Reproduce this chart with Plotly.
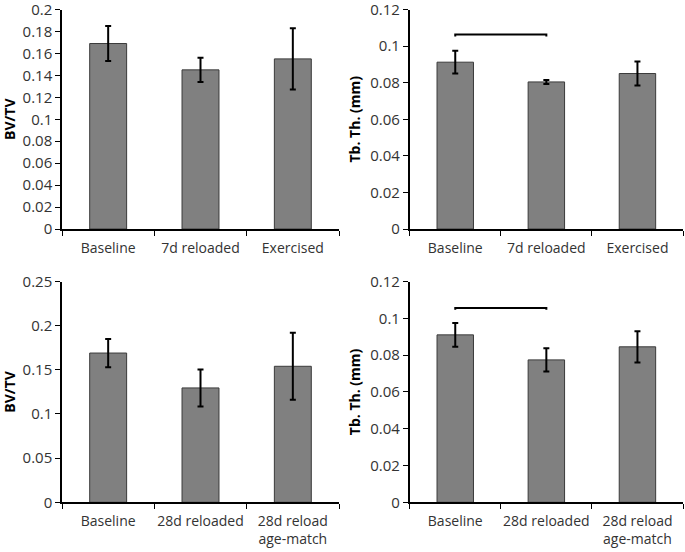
import plotly.graph_objects as go
from plotly.subplots import make_subplots

# data
cats_7d = ["Baseline", "7d reloaded", "Exercised"]
cats_28d = ["Baseline", "28d reloaded", "28d reload<br>age-match"]

bvtv_7d = [0.169, 0.145, 0.155]
bvtv_7d_err = [0.016, 0.011, 0.028]
tbth_7d = [0.0912, 0.0804, 0.0850]
tbth_7d_err = [0.0062, 0.0011, 0.0066]

bvtv_28d = [0.169, 0.1295, 0.154]
bvtv_28d_err = [0.016, 0.021, 0.038]
tbth_28d = [0.0910, 0.0774, 0.0845]
tbth_28d_err = [0.0065, 0.0063, 0.0085]

# significance brackets (Baseline vs reloaded)
bracket_7d = [0.1053, 0.1063]
bracket_28d = [0.1046, 0.1056]

BAR = "#808080"
FONT = "Open Sans"

fig = make_subplots(rows=2, cols=2)


def add_bars(cats, vals, errs, row, col):
    fig.add_trace(
        go.Bar(
            x=cats,
            y=vals,
            width=0.4,
            marker=dict(color=BAR, line=dict(color="#3a3a3a", width=1)),
            error_y=dict(type="data", array=errs, color="black",
                         thickness=2, width=3),
            showlegend=False,
        ), row=row, col=col)


def add_bracket(cats, levels, row, col):
    fig.add_trace(
        go.Scatter(
            x=[cats[0], cats[0], cats[1], cats[1]],
            y=[levels[0], levels[1], levels[1], levels[0]],
            mode="lines",
            line=dict(color="black", width=2),
            showlegend=False,
            hoverinfo="skip",
        ), row=row, col=col)


add_bars(cats_7d, bvtv_7d, bvtv_7d_err, 1, 1)
add_bars(cats_7d, tbth_7d, tbth_7d_err, 1, 2)
add_bracket(cats_7d, bracket_7d, 1, 2)
add_bars(cats_28d, bvtv_28d, bvtv_28d_err, 2, 1)
add_bars(cats_28d, tbth_28d, tbth_28d_err, 2, 2)
add_bracket(cats_28d, bracket_28d, 2, 2)

W, H = 685, 552
xdom_l = [62 / W, 339 / W]
xdom_r = [409.7 / W, 683 / W]
ydom_t = [1 - 229 / H, 1 - 9.5 / H]
ydom_b = [1 - 502.3 / H, 1 - 281.5 / H]

axis_common = dict(
    showgrid=False,
    zeroline=False,
    showline=True,
    linecolor="black",
    linewidth=1.5,
    ticks="outside",
    tickcolor="black",
    ticklen=5,
    automargin=False,
    ticklabeloverflow="allow",
)

fig.update_xaxes(**axis_common, tickson="boundaries", tickangle=0,
                 ticklabelstandoff=5,
                 tickfont=dict(family=FONT, size=14, color="#333"))
fig.update_yaxes(**axis_common,
                 tickfont=dict(family=FONT, size=15, color="#333"))

title_font = dict(family=FONT, size=14, color="black")

fig.update_layout(
    xaxis=dict(domain=xdom_l),
    xaxis2=dict(domain=xdom_r),
    xaxis3=dict(domain=xdom_l),
    xaxis4=dict(domain=xdom_r),
    yaxis=dict(domain=ydom_t, range=[0, 0.2], dtick=0.02,
               title=dict(text="<b>BV/TV</b>", standoff=4, font=title_font)),
    yaxis2=dict(domain=ydom_t, range=[0, 0.12], dtick=0.02,
                title=dict(text="<b>Tb. Th. (mm)</b>", standoff=6,
                           font=title_font)),
    yaxis3=dict(domain=ydom_b, range=[0, 0.25], dtick=0.05,
                title=dict(text="<b>BV/TV</b>", standoff=4, font=title_font)),
    yaxis4=dict(domain=ydom_b, range=[0, 0.12], dtick=0.02,
                title=dict(text="<b>Tb. Th. (mm)</b>", standoff=6,
                           font=title_font)),
    width=W,
    height=H,
    margin=dict(l=0, r=0, t=0, b=0),
    paper_bgcolor="white",
    plot_bgcolor="white",
    bargap=0.6,
)

# drop the page's default body margin so the figure sits at the window corner
fig.write_html("out.html", config={"displayModeBar": False},
               post_script="document.body.style.margin='0';")
